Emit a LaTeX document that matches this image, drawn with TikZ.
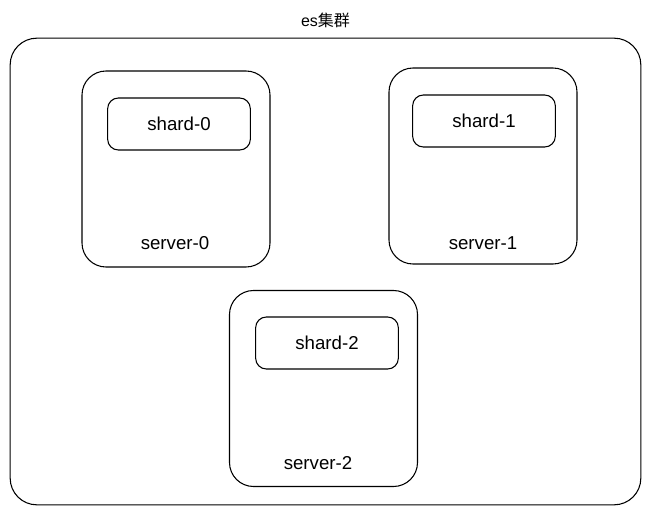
\documentclass[tikz,border=0pt]{standalone}
\usepackage{fontspec}
\setmainfont{Liberation Sans}
\newfontfamily\cjk{Noto Sans CJK SC}
\usetikzlibrary{positioning}

\begin{document}
\begin{tikzpicture}[x=0.75pt,y=-0.75pt,
  serverbox/.style={draw,line width=0.8pt,rounded corners=18pt,minimum width=141pt,minimum height=147pt},
  shardbox/.style={draw,line width=0.8pt,rounded corners=8pt,minimum width=107pt,minimum height=39pt,font=\fontsize{14}{16}\selectfont},
  tag/.style={font=\fontsize{14}{16}\selectfont}]

\useasboundingbox (0,0) rectangle (651,513);

\node[draw,line width=0.8pt,rounded corners=20pt,minimum width=473pt,minimum height=350pt] (cluster) at (325.5,271.5) {};
\node[font=\fontsize{12}{14}\selectfont,above=4pt of cluster.north] (title) {es{\cjk 集群}};

\node[serverbox] (server0) at (176,169) {};
\node[serverbox] (server1) at (483,166) {};
\node[serverbox] (server2) at (323.5,388.5) {};

\node[shardbox] (shard0) at (179,124) {shard-0};
\node[shardbox] (shard1) at (484,121) {shard-1};
\node[shardbox] (shard2) at (327,343) {shard-2};

\node[tag] (label0) at (175,243) {server-0};
\node[tag] (label1) at (483,243) {server-1};
\node[tag] (label2) at (318,463) {server-2};
\end{tikzpicture}
\end{document}
